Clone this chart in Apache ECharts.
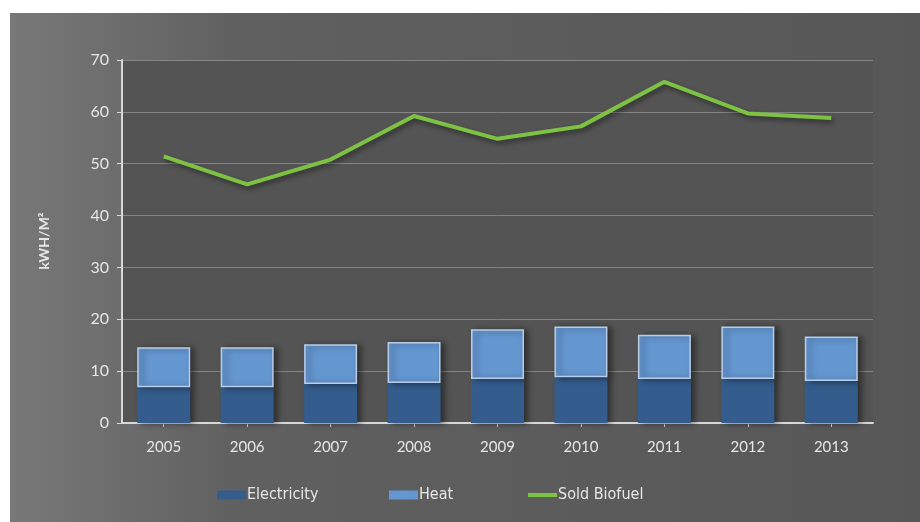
<!DOCTYPE html>
<html>
<head>
<meta charset="utf-8">
<script src="https://cdn.jsdelivr.net/npm/echarts@6/dist/echarts.min.js"></script>
<style>
  html, body { margin: 0; padding: 0; background: #ffffff; }
  #chart { width: 920px; height: 522px; }
</style>
</head>
<body>
<div id="chart"></div>
<script>
// Yearly energy output per square metre
const years = ['2005', '2006', '2007', '2008', '2009', '2010', '2011', '2012', '2013'];
const electricity = [6.9, 6.9, 7.5, 7.7, 8.5, 8.8, 8.5, 8.5, 8.1];
const heat = [7.7, 7.7, 7.7, 7.9, 9.6, 9.8, 8.5, 10.1, 8.6];
const soldBiofuel = [51.4, 46.0, 50.8, 59.2, 54.8, 57.2, 65.8, 59.7, 58.8];
const yTicks = [0, 10, 20, 30, 40, 50, 60, 70];

const textColor = '#e6e6e6';
const axisFont = 'Lato, "DejaVu Sans", sans-serif';
const legendFont = '"DejaVu Sans Condensed", "Liberation Sans Narrow", sans-serif';

const chart = echarts.init(document.getElementById('chart'), null, { renderer: 'canvas' });

const barShadow = {
  shadowColor: 'rgba(0,0,0,0.45)',
  shadowBlur: 6,
  shadowOffsetX: 4,
  shadowOffsetY: 1
};

function legendAt(left, name, h) {
  return {
    top: 482,
    left: left,
    itemWidth: 29,
    itemHeight: h,
    itemStyle: { borderWidth: 0, shadowBlur: 0 },
    lineStyle: { width: 0 },
    textStyle: { color: textColor, fontSize: 16, fontFamily: legendFont, padding: [0, 0, 0, -4] },
    data: [{ name: name, icon: 'rect' }]
  };
}

chart.setOption({
  animation: false,
  graphic: [
    {
      type: 'rect',
      left: 10,
      top: 13,
      z: -10,
      shape: { width: 910, height: 509 },
      style: {
        fill: new echarts.graphic.LinearGradient(0, 0, 1, 0, [
          { offset: 0, color: '#787878' },
          { offset: 0.25, color: '#606060' },
          { offset: 1, color: '#575757' }
        ])
      }
    },
    {
      type: 'text',
      x: 44,
      y: 241,
      rotation: Math.PI / 2,
      style: {
        text: 'kWH/M²',
        fill: textColor,
        font: 'bold 14px ' + axisFont,
        align: 'center',
        verticalAlign: 'middle'
      }
    }
  ],
  grid: {
    left: 122,
    right: 47,
    top: 60,
    bottom: 99,
    show: true,
    backgroundColor: '#545454',
    borderWidth: 0
  },
  legend: [
    legendAt(212, 'Electricity', 9),
    legendAt(384, 'Heat', 9),
    legendAt(523, 'Sold Biofuel', 4)
  ],
  xAxis: {
    type: 'category',
    data: years,
    axisLine: { show: true, lineStyle: { color: '#d8d8d8', width: 2 } },
    axisTick: { show: true, alignWithLabel: true, length: 4, lineStyle: { color: '#d8d8d8' } },
    axisLabel: { color: textColor, fontSize: 15, fontFamily: axisFont, margin: 17 }
  },
  yAxis: {
    type: 'value',
    min: yTicks[0],
    max: yTicks[yTicks.length - 1],
    interval: 10,
    axisLine: { show: true, lineStyle: { color: '#d8d8d8', width: 2 } },
    axisTick: { show: true, length: 5, lineStyle: { color: '#d8d8d8' } },
    axisLabel: { color: textColor, fontSize: 16, fontFamily: axisFont, margin: 13 },
    splitLine: { show: true, lineStyle: { color: '#858585', width: 1 } }
  },
  series: [
    {
      name: 'Electricity',
      type: 'bar',
      stack: 'total',
      barWidth: 53,
      data: electricity,
      itemStyle: Object.assign({ color: '#345c8c' }, barShadow)
    },
    {
      name: 'Heat',
      type: 'bar',
      stack: 'total',
      barWidth: 53,
      data: heat,
      itemStyle: Object.assign({ color: '#6496d0', borderColor: '#b9cde8', borderWidth: 1.5 }, barShadow)
    },
    {
      name: 'Sold Biofuel',
      type: 'line',
      data: soldBiofuel,
      symbol: 'none',
      color: '#7ec244',
      lineStyle: {
        color: '#7ec244',
        width: 4,
        shadowColor: 'rgba(0,0,0,0.45)',
        shadowBlur: 5,
        shadowOffsetX: 2,
        shadowOffsetY: 3
      },
      z: 5
    }
  ]
});
</script>
</body>
</html>
